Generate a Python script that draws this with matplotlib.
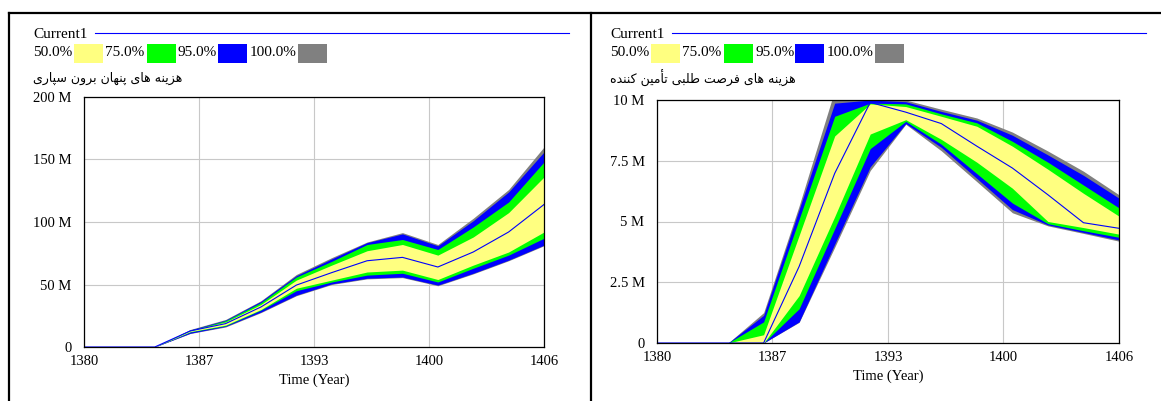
import numpy as np
import matplotlib
matplotlib.use("Agg")
import matplotlib.pyplot as plt
from matplotlib.lines import Line2D
from matplotlib.patches import Rectangle

plt.rcParams['font.family'] = ['Liberation Serif', 'DejaVu Sans']

# ---- data (values in millions) ----
years = [1380, 1382, 1384, 1386, 1388, 1390, 1392, 1394, 1396, 1398, 1400, 1402, 1404, 1406]

# hidden outsourcing costs
out_min = [0, 0, 0, 10.8, 16, 27.5, 41, 50, 54.5, 55.5, 49, 58.5, 69, 81]
out_lo95 = [0, 0, 0, 11, 16.5, 28, 41.5, 50.5, 55, 56, 49.5, 59, 69.5, 81.5]
out_lo75 = [0, 0, 0, 12, 17, 29.5, 45, 52, 57.5, 59, 52, 63, 73.5, 87]
out_lo50 = [0, 0, 0, 12.3, 17.5, 30, 47, 53.5, 60, 61.5, 54, 65.5, 76, 92]
out_mid = [0, 0, 0, 12.8, 18.7, 32, 49.5, 59.5, 69, 71.7, 64, 76, 92, 114]
out_hi50 = [0, 0, 0, 13, 20, 34, 53.5, 65.5, 77, 82, 73.5, 88, 107.5, 136]
out_hi75 = [0, 0, 0, 13.3, 21, 35.5, 56, 68.5, 82, 86, 78, 96, 116, 148]
out_hi95 = [0, 0, 0, 13.6, 21.5, 36.5, 57, 70.5, 83.5, 90.5, 81, 101, 124, 156]
out_max = [0, 0, 0, 14, 22, 37, 58, 71.5, 84, 91.5, 82, 103, 126, 160]

# supplier opportunism costs
opp_min = [0, 0, 0, 0, 0.85, 3.94, 7.1, 9.0, 7.91, 6.64, 5.36, 4.82, 4.51, 4.19]
opp_lo95 = [0, 0, 0, 0, 0.87, 4.07, 7.25, 9.03, 8.05, 6.77, 5.49, 4.86, 4.55, 4.24]
opp_lo75 = [0, 0, 0, 0, 1.41, 4.7, 8.0, 9.12, 8.18, 6.97, 5.76, 4.91, 4.62, 4.35]
opp_lo50 = [0, 0, 0, 0, 1.95, 5.2, 8.6, 9.19, 8.38, 7.44, 6.37, 5.0, 4.75, 4.48]
opp_mid = [0, 0, 0, 0, 3.15, 6.98, 9.9, 9.5, 9.03, 8.1, 7.2, 6.1, 4.95, 4.72]
opp_hi50 = [0, 0, 0, 0.34, 4.43, 8.52, 9.84, 9.73, 9.33, 8.92, 8.1, 7.15, 6.16, 5.22]
opp_hi75 = [0, 0, 0, 0.87, 5.1, 9.33, 9.87, 9.84, 9.43, 9.06, 8.3, 7.44, 6.5, 5.56]
opp_hi95 = [0, 0, 0, 1.14, 5.5, 9.87, 10.0, 9.93, 9.53, 9.17, 8.55, 7.74, 6.9, 5.96]
opp_max = [0, 0, 0, 1.25, 5.65, 10.4, 10.3, 10.0, 9.62, 9.26, 8.68, 7.9, 7.07, 6.1]

title_out = "هزینه های پنهان برون سپاری"
title_opp = "هزینه های فرصت طلبی تأمین کننده"
legend_labels = ["50.0%", "75.0%", "95.0%", "100.0%"]
band_colors = ["#ffff80", "#00ff00", "#0000ff", "#808080"]
x_ticks = np.linspace(1380, 1406, 5)
out_yticks = [0, 50, 100, 150, 200]
opp_yticks = [0, 2.5, 5, 7.5, 10]

# ---- minimal persian shaping (matplotlib has no arabic shaping) ----
# isolated, final, initial, medial
FORMS = {
    'ا': (0xFE8D, 0xFE8E), 'أ': (0xFE83, 0xFE84),
    'د': (0xFEA9, 0xFEAA), 'ر': (0xFEAD, 0xFEAE),
    'ز': (0xFEAF, 0xFEB0), 'و': (0xFEED, 0xFEEE),
    'ب': (0xFE8F, 0xFE90, 0xFE91, 0xFE92), 'پ': (0xFB56, 0xFB57, 0xFB58, 0xFB59),
    'ت': (0xFE95, 0xFE96, 0xFE97, 0xFE98), 'س': (0xFEB1, 0xFEB2, 0xFEB3, 0xFEB4),
    'ص': (0xFEB9, 0xFEBA, 0xFEBB, 0xFEBC), 'ط': (0xFEC1, 0xFEC2, 0xFEC3, 0xFEC4),
    'ف': (0xFED1, 0xFED2, 0xFED3, 0xFED4), 'ک': (0xFB8E, 0xFB8F, 0xFB90, 0xFB91),
    'ل': (0xFEDD, 0xFEDE, 0xFEDF, 0xFEE0), 'م': (0xFEE1, 0xFEE2, 0xFEE3, 0xFEE4),
    'ن': (0xFEE5, 0xFEE6, 0xFEE7, 0xFEE8), 'ه': (0xFEE9, 0xFEEA, 0xFEEB, 0xFEEC),
    'ی': (0xFBFC, 0xFBFD, 0xFBFE, 0xFBFF),
}


def shape_fa(text):
    out = []
    for i, ch in enumerate(text):
        if ch not in FORMS:
            out.append(ch)
            continue
        prev = text[i - 1] if i > 0 else ''
        nxt = text[i + 1] if i + 1 < len(text) else ''
        join_prev = prev in FORMS and len(FORMS[prev]) == 4
        join_next = len(FORMS[ch]) == 4 and nxt in FORMS
        f = FORMS[ch]
        if join_prev and join_next:
            out.append(chr(f[3]))
        elif join_prev:
            out.append(chr(f[1]))
        elif join_next:
            out.append(chr(f[2]))
        else:
            out.append(chr(f[0]))
    return ''.join(reversed(out))


W, H = 1161, 401
fig = plt.figure(figsize=(W / 100, H / 100), dpi=100)


def fx(px):
    return px / W


def fy(py):
    return 1 - py / H


# panel frames
for seg in [((9, 9), (13, H)), ((9, W), (13, 13)), ((591, 591), (13, H))]:
    fig.add_artist(Line2D([fx(v) for v in seg[0]], [fy(v) for v in seg[1]],
                          color='black', lw=1.6))


def panel(x0, box, title, lows, highs, mid, yticks, ymax):
    # header: run name and legend
    fig.text(fx(x0 + 33), fy(34), "Current1", fontsize=11, va='center')
    fig.add_artist(Line2D([fx(x0 + 95), fx(x0 + 569)], [fy(33), fy(33)],
                          color='#0000ff', lw=0.8))
    for lab, col, tx, bx in zip(legend_labels, band_colors,
                                [33, 105, 178, 250], [74, 147, 218, 298]):
        fig.text(fx(x0 + tx), fy(53), lab, fontsize=11, va='center')
        fig.add_artist(Rectangle((fx(x0 + bx), fy(63)), 29 / W, 19 / H,
                                 transform=fig.transFigure, color=col, lw=0))
    fig.text(fx(x0 + 33), fy(78), shape_fa(title), fontsize=9, va='center',
             family=['DejaVu Sans'])

    left, top, right, bottom = box
    ax = fig.add_axes([fx(left), fy(bottom), (right - left) / W, (bottom - top) / H])
    ax.set_axisbelow(True)
    # outermost band first, inner bands on top
    for lo, hi, col in zip(reversed(lows), reversed(highs), reversed(band_colors)):
        ax.fill_between(years, lo, hi, color=col, lw=0)
    ax.plot(years, mid, color='#0000ff', lw=0.8)

    ax.set_xlim(1380, 1406)
    ax.set_ylim(0, ymax)
    ax.set_xticks(x_ticks)
    ax.set_xticklabels([str(int(np.floor(t + 0.5))) for t in x_ticks])
    ax.set_yticks(yticks)
    ax.set_yticklabels(["0" if v == 0 else f"{v:g} M" for v in yticks])
    ax.tick_params(length=0, labelsize=10.5)
    ax.tick_params(axis='y', pad=9)
    ax.tick_params(axis='x', pad=6)
    ax.grid(True, color='#c8c8c8', lw=0.8)
    for s in ax.spines.values():
        s.set_linewidth(0.9)
        s.set_color('black')
    ax.set_xlabel("Time (Year)", fontsize=10.5, labelpad=4)
    return ax


panel(0, (84, 97, 544, 347), title_out,
      [out_lo50, out_lo75, out_lo95, out_min],
      [out_hi50, out_hi75, out_hi95, out_max], out_mid, out_yticks, 200)
panel(577, (657, 100, 1119, 343), title_opp,
      [opp_lo50, opp_lo75, opp_lo95, opp_min],
      [opp_hi50, opp_hi75, opp_hi95, opp_max], opp_mid, opp_yticks, 10)

fig.savefig("out.png", dpi=100)
